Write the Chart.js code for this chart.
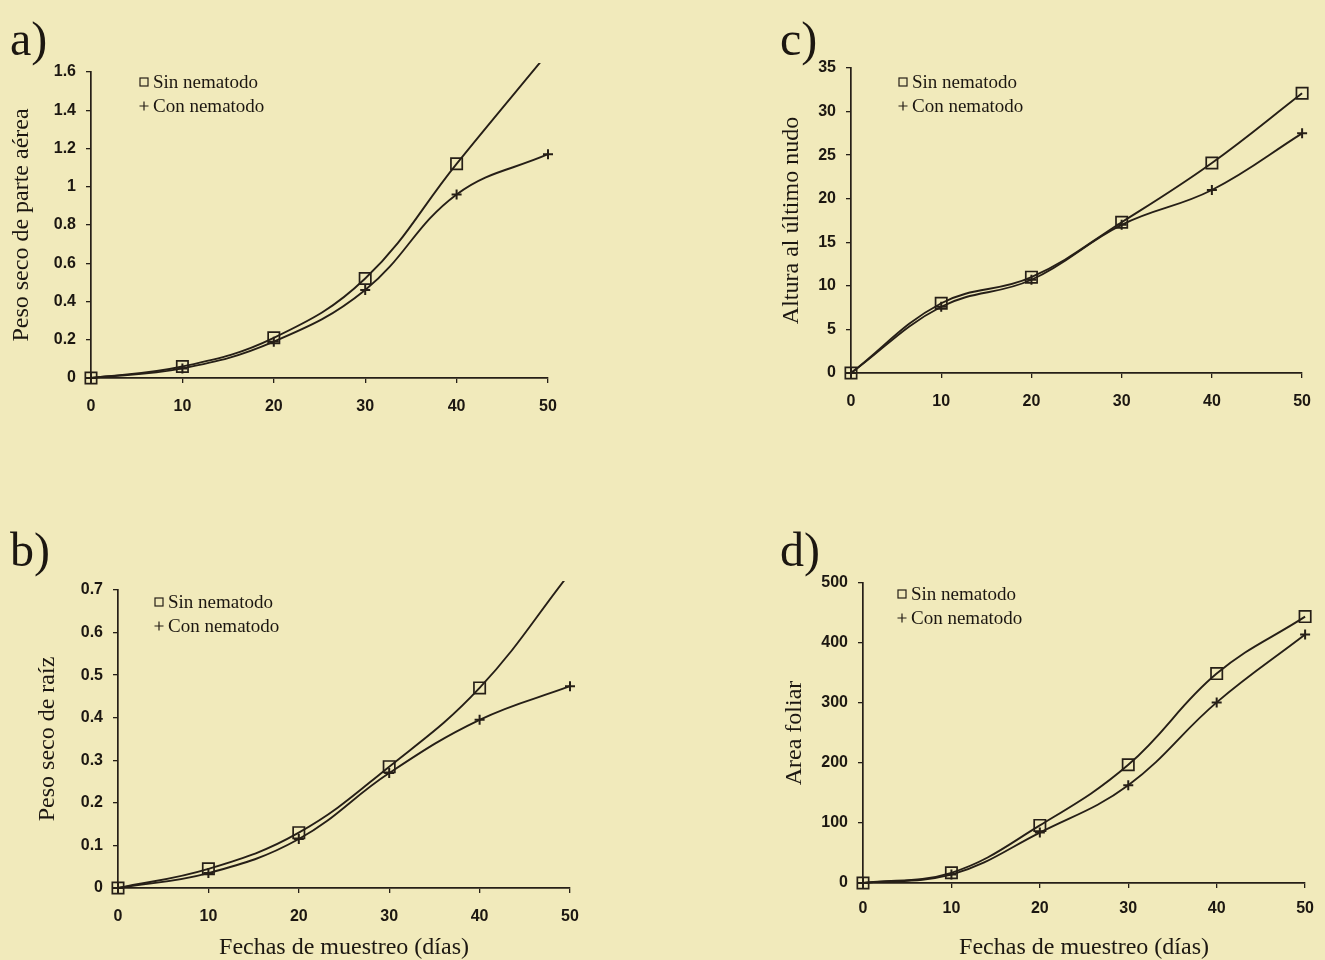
<!DOCTYPE html>
<html>
<head>
<meta charset="utf-8">
<script src="https://cdn.jsdelivr.net/npm/chart.js@4.4.1/dist/chart.umd.min.js"></script>
<style>
  body { margin: 0; background: #f1eabb; width: 1325px; height: 960px; overflow: hidden; position: relative; }
  canvas { position: absolute; }
</style>
</head>
<body>
<canvas id="graphA" width="620" height="440" style="left:0px;top:0px"></canvas>
<canvas id="graphC" width="625" height="440" style="left:700px;top:0px"></canvas>
<canvas id="graphB" width="620" height="460" style="left:0px;top:500px"></canvas>
<canvas id="graphD" width="625" height="460" style="left:700px;top:500px"></canvas>
<script>
// fechas de muestreo (dias)
let days = [0, 10, 20, 30, 40, 50];
let seriesNames = ["Sin nematodo", "Con nematodo"];

// a) peso seco de parte aerea
let aereaSin = [0, 0.06, 0.21, 0.52, 1.12, 1.70];
let aereaCon = [0, 0.05, 0.19, 0.46, 0.96, 1.17];
// b) peso seco de raiz
let raizSin = [0, 0.045, 0.13, 0.285, 0.47, 0.74];
let raizCon = [0, 0.035, 0.115, 0.27, 0.395, 0.474];
// c) altura al ultimo nudo
let alturaSin = [0, 8.0, 11.0, 17.3, 24.1, 32.1];
let alturaCon = [0, 7.6, 10.7, 17.0, 21.0, 27.5];
// d) area foliar
let foliarSin = [0, 17, 96, 197, 349, 444];
let foliarCon = [0, 14, 84, 163, 301, 414];

// y axis [min, max, step]
let rangeA = [0, 1.6, 0.2];
let rangeB = [0, 0.7, 0.1];
let rangeC = [0, 35, 5];
let rangeD = [0, 500, 100];
let xRange = [0, 50, 10];

let ink = '#261f17';
let textInk = '#1c1711';

// legend drawn inside the plot, like the original figure
let legendInside = {
  id: 'legendInside',
  afterDraw(chart, args, opts) {
    let ctx = chart.ctx;
    let area = chart.chartArea;
    ctx.save();
    ctx.font = '19px "Liberation Serif"';
    ctx.fillStyle = textInk;
    ctx.strokeStyle = ink;
    ctx.textBaseline = 'middle';
    chart.data.datasets.forEach((ds, i) => {
      let x = area.left + opts.x;
      let y = area.top + opts.y + i * 24;
      ctx.lineWidth = 1.2;
      if (ds.pointStyle === 'rect') {
        ctx.strokeRect(x - 4, y - 4, 8, 8);
      } else {
        ctx.beginPath();
        ctx.moveTo(x - 4.5, y); ctx.lineTo(x + 4.5, y);
        ctx.moveTo(x, y - 4.5); ctx.lineTo(x, y + 4.5);
        ctx.stroke();
      }
      ctx.fillText(ds.label, x + 9, y + 1);
    });
    ctx.restore();
  }
};

function points(values) {
  return days.map((d, i) => ({ x: d, y: values[i] }));
}

function panel(id, letter, yTitle, xTitle, sin, con, range, lay) {
  let ctx = document.getElementById(id).getContext('2d');
  return new Chart(ctx, {
    type: 'line',
    data: {
      datasets: [{
        label: seriesNames[0],
        data: points(sin),
        borderColor: ink,
        borderWidth: 1.9,
        pointStyle: 'rect',
        pointRadius: 8,
        pointBorderWidth: 1.7,
        pointBorderColor: ink,
        pointBackgroundColor: 'rgba(0,0,0,0)',
        tension: 0.4,
        clip: 9
      }, {
        label: seriesNames[1],
        data: points(con),
        borderColor: ink,
        borderWidth: 1.9,
        pointStyle: 'cross',
        pointRadius: 5,
        pointBorderWidth: 2,
        pointBorderColor: ink,
        tension: 0.4,
        clip: 9
      }]
    },
    options: {
      responsive: false,
      animation: false,
      layout: { padding: { left: lay.padLeft, right: lay.padRight, top: 0, bottom: 0 } },
      plugins: {
        legend: { display: false },
        tooltip: { enabled: false },
        title: {
          display: true,
          text: letter,
          align: 'start',
          color: textInk,
          font: { family: '"Liberation Serif"', size: 48, weight: 'normal', lineHeight: 1 },
          padding: { top: lay.titleTop, bottom: lay.titleBottom }
        },
        legendInside: { x: lay.legendX, y: lay.legendY }
      },
      scales: {
        x: {
          type: 'linear',
          min: xRange[0], max: xRange[1],
          afterFit: s => { s.height = lay.xHeight; },
          border: { display: true, color: ink, width: 1.7 },
          grid: { display: true, drawOnChartArea: false, drawTicks: true, tickLength: 5, color: ink, lineWidth: 1.3 },
          ticks: {
            stepSize: xRange[2],
            padding: lay.xPad,
            color: textInk,
            font: { family: '"Liberation Sans"', size: 16, weight: 'bold' }
          },
          title: {
            display: !!xTitle,
            text: xTitle,
            color: textInk,
            font: { family: '"Liberation Serif"', size: 24, lineHeight: 1 },
            padding: { top: 0, bottom: 0 }
          }
        },
        y: {
          min: range[0], max: range[1],
          afterFit: s => { s.width = lay.yWidth; },
          border: { display: true, color: ink, width: 1.7 },
          grid: { display: true, drawOnChartArea: false, drawTicks: true, tickLength: 5, color: ink, lineWidth: 1.3 },
          ticks: {
            stepSize: range[2],
            padding: 10,
            color: textInk,
            font: { family: '"Liberation Sans"', size: 16, weight: 'bold' },
            callback: v => String(+v.toFixed(2))
          },
          title: {
            display: true,
            text: yTitle,
            color: textInk,
            font: { family: '"Liberation Serif"', size: 24, lineHeight: 1 },
            padding: { top: lay.yTitlePad, bottom: 0 }
          }
        }
      }
    },
    plugins: [legendInside]
  });
}

let graphA = panel('graphA', 'a)', 'Peso seco de parte aérea', '', aereaSin, aereaCon, rangeA,
  { padLeft: 10, yWidth: 81, padRight: 72, titleTop: 18, titleBottom: 6, xHeight: 62, xPad: 14, yTitlePad: 0, legendX: 53, legendY: 10 });
let graphC = panel('graphC', 'c)', 'Altura al último nudo', '', alturaSin, alturaCon, rangeC,
  { padLeft: 80, yWidth: 71, padRight: 20, titleTop: 18, titleBottom: 2, xHeight: 67, xPad: 14, yTitlePad: 0, legendX: 52, legendY: 14 });
let graphB = panel('graphB', 'b)', 'Peso seco de raíz', 'Fechas de muestreo (días)', raizSin, raizCon, rangeB,
  { padLeft: 10, yWidth: 108, padRight: 50, titleTop: 29, titleBottom: 13, xHeight: 72, xPad: 14, yTitlePad: 26, legendX: 41, legendY: 12 });
let graphD = panel('graphD', 'd)', 'Area foliar', 'Fechas de muestreo (días)', foliarSin, foliarCon, rangeD,
  { padLeft: 80, yWidth: 83, padRight: 12, titleTop: 29, titleBottom: 6, xHeight: 77, xPad: 11, yTitlePad: 3, legendX: 39, legendY: 11 });
</script>
</body>
</html>
